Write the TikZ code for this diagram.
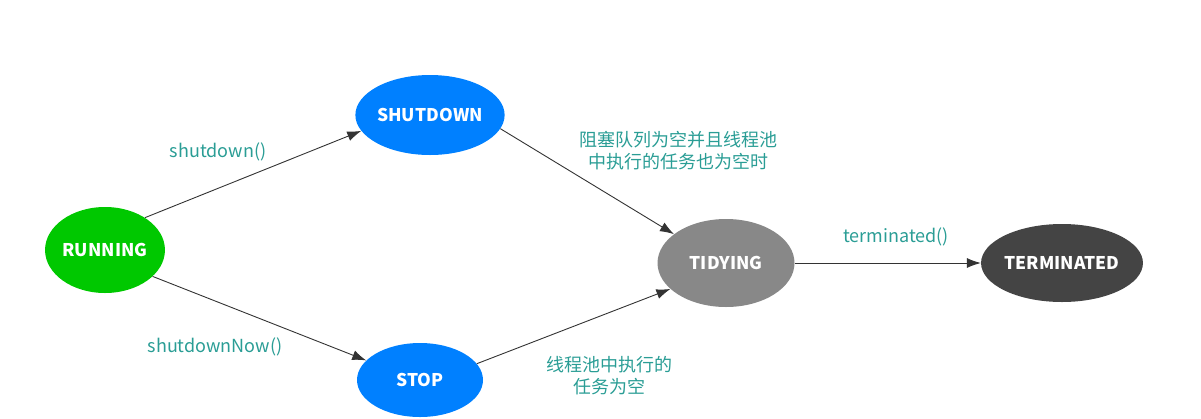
\documentclass[tikz,border=0pt]{standalone}
\usepackage{fontspec}
\setmainfont{Noto Sans CJK SC}
\usetikzlibrary{arrows.meta,shapes.geometric}
\definecolor{run}{HTML}{00C800}
\definecolor{shut}{HTML}{0080FF}
\definecolor{tidy}{HTML}{888888}
\definecolor{term}{HTML}{444444}
\definecolor{lbl}{HTML}{2A9D95}
\definecolor{edge}{HTML}{333333}
\tikzset{state/.style={ellipse,draw=none,inner sep=0pt,text=white,font=\fontsize{17.5}{20}\selectfont\bfseries},
  arr/.style={-{Latex[length=14pt,width=10pt]},draw=edge,line width=0.9pt},
  lab/.style={text=lbl,align=center,font=\fontsize{18}{22}\selectfont}}

\begin{document}
\begin{tikzpicture}[x=1pt,y=-1pt]
\useasboundingbox (0,0) rectangle (1201,418);
\node[state,fill=run,minimum width=117,minimum height=86] (running) at (105,250) {RUNNING};
\node[state,fill=shut,minimum width=146,minimum height=80] (shutdown) at (430,115) {SHUTDOWN};
\node[state,fill=shut,minimum width=126,minimum height=74] (stop) at (420,380) {STOP};
\node[state,fill=tidy,minimum width=137,minimum height=88] (tidying) at (726,263) {TIDYING};
\node[state,fill=term,minimum width=151,minimum height=78] (terminated) at (1062,263) {TERMINATED};
\draw[arr] (running.39)--(shutdown.193);
\draw[arr] (running.331)--(stop.160);
\draw[arr] (shutdown.349)--(tidying.151);
\draw[arr] (stop.16)--(tidying.205);
\draw[arr] (tidying)--(terminated);
\node[lab] (l1) at (218,152) {shutdown()};
\node[lab] (l2) at (215,347) {shutdownNow()};
\node[lab] (l3) at (678,151) {阻塞队列为空并且线程池\\中执行的任务也为空时};
\node[lab] (l4) at (609,376) {线程池中执行的\\任务为空};
\node[lab] (l5) at (896,237) {terminated()};
\end{tikzpicture}
\end{document}
